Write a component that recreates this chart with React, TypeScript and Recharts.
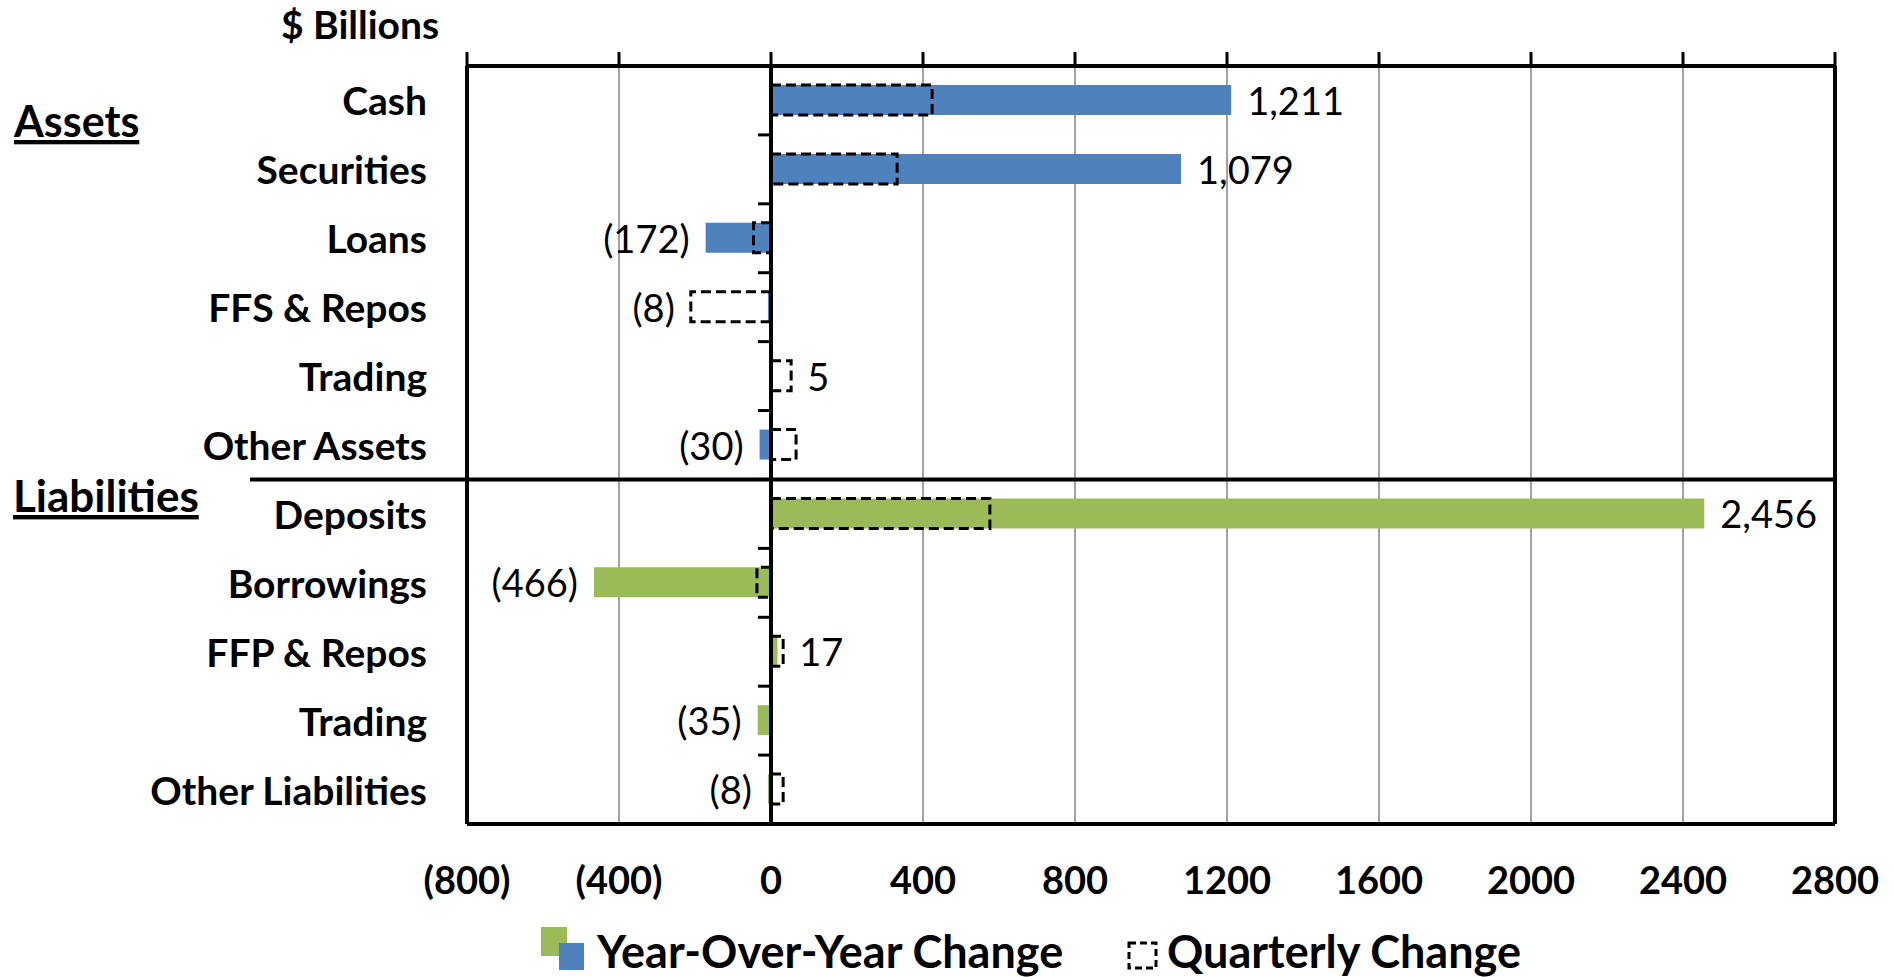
import { BarChart, Bar, XAxis, YAxis, CartesianGrid, ReferenceLine, Cell, LabelList } from "recharts"

// categories top to bottom; first six are assets, the rest liabilities
const categories = [
    "Cash",
    "Securities",
    "Loans",
    "FFS & Repos",
    "Trading",
    "Other Assets",
    "Deposits",
    "Borrowings",
    "FFP & Repos",
    "Trading",
    "Other Liabilities",
]
const assetCount = 6

// $ billions
const yearOverYear = [1211, 1079, -172, -8, 5, -30, 2456, -466, 17, -35, -8]
const quarterly = [424, 332, -46, -211, 53, 66, 576, -37, 32, 0, 32]

const xTicks = [-800, -400, 0, 400, 800, 1200, 1600, 2000, 2400, 2800]

const rows = categories.map((name, i) => ({ name, yoy: yearOverYear[i], qtr: quarterly[i] }))

// layout
const W = 1894
const H = 977
const PLOT_LEFT = 467
const PLOT_RIGHT = 1835
const PLOT_TOP = 66
const PLOT_BOTTOM = 824
const X_MIN = xTicks[0]
const X_MAX = xTicks[xTicks.length - 1]
const BAR = 30

const FONT = "Lato, 'Open Sans', sans-serif"
const BLUE = "#4F81BD"
const GREEN = "#9BBB59"

const xPx = (v: number) => PLOT_LEFT + ((v - X_MIN) / (X_MAX - X_MIN)) * (PLOT_RIGHT - PLOT_LEFT)

const fmtValue = (v: number) => (v < 0 ? `(${Math.abs(v).toLocaleString("en-US")})` : v.toLocaleString("en-US"))
const fmtTick = (v: number) => (v < 0 ? `(${Math.abs(v)})` : `${v}`)

const CategoryTick = (props: any) => {
    const { y, payload, index } = props
    const band = (PLOT_BOTTOM - PLOT_TOP) / categories.length
    const zx = xPx(0)
    return (
        <g>
            <text
                x={PLOT_LEFT - 40}
                y={y}
                textAnchor="end"
                dominantBaseline="central"
                fontFamily={FONT}
                fontWeight={700}
                fontSize={39}
                fill="#000"
            >
                {payload.value}
            </text>
            <line x1={zx - 13} x2={zx} y1={y + band / 2} y2={y + band / 2} stroke="#000" strokeWidth={3} />
            {index === assetCount && (
                <line x1={250} x2={PLOT_RIGHT} y1={y - band / 2} y2={y - band / 2} stroke="#000" strokeWidth={4} />
            )}
        </g>
    )
}

const ValueLabel = (props: any) => {
    const { y, height, index } = props
    const r = rows[index]
    const cy = y + height / 2
    if (r.yoy >= 0) {
        const end = Math.max(r.yoy, r.qtr, 0)
        return (
            <text x={xPx(end) + 16} y={cy} textAnchor="start" dominantBaseline="central" fontFamily={FONT} fontSize={38} fill="#000">
                {fmtValue(r.yoy)}
            </text>
        )
    }
    const start = Math.min(r.yoy, r.qtr, 0)
    return (
        <text x={xPx(start) - 16} y={cy} textAnchor="end" dominantBaseline="central" fontFamily={FONT} fontSize={38} fill="#000">
            {fmtValue(r.yoy)}
        </text>
    )
}

// top axis: outward tick marks only, no labels
const NoLabel = () => <g />

export default function App() {
    return (
        <div style={{ position: "relative", width: W, height: H, background: "#fff", overflow: "hidden" }}>
            <style>{"body{margin:0}"}</style>
            <BarChart
                width={W}
                height={H}
                data={rows}
                layout="vertical"
                barGap={-BAR}
                margin={{ top: PLOT_TOP - 14, right: W - PLOT_RIGHT, bottom: H - PLOT_BOTTOM - 60, left: 0 }}
            >
                <CartesianGrid xAxisId="bottom" horizontal={false} vertical stroke="#a3a3a3" strokeWidth={2} />
                <XAxis
                    xAxisId="top"
                    orientation="top"
                    type="number"
                    domain={[X_MIN, X_MAX]}
                    ticks={xTicks}
                    tick={<NoLabel />}
                    tickSize={14}
                    height={14}
                    stroke="#000"
                    tickLine={{ stroke: "#000", strokeWidth: 3 }}
                    axisLine={{ stroke: "#000", strokeWidth: 4 }}
                />
                <XAxis
                    xAxisId="bottom"
                    orientation="bottom"
                    type="number"
                    domain={[X_MIN, X_MAX]}
                    ticks={xTicks}
                    tickFormatter={fmtTick}
                    tickLine={false}
                    tickSize={0}
                    tickMargin={43}
                    height={60}
                    axisLine={{ stroke: "#000", strokeWidth: 4 }}
                    tick={{ fill: "#000", fontFamily: FONT, fontWeight: 700, fontSize: 38 }}
                />
                <YAxis
                    type="category"
                    dataKey="name"
                    width={PLOT_LEFT}
                    interval={0}
                    tickLine={false}
                    axisLine={{ stroke: "#000", strokeWidth: 4 }}
                    tick={<CategoryTick />}
                />
                <ReferenceLine xAxisId="bottom" x={X_MAX} stroke="#000" strokeWidth={4} />
                <Bar xAxisId="bottom" dataKey="yoy" barSize={BAR} isAnimationActive={false}>
                    {rows.map((_, i) => (
                        <Cell key={`yoy-${i}`} fill={i < assetCount ? BLUE : GREEN} />
                    ))}
                    <LabelList dataKey="yoy" content={<ValueLabel />} />
                </Bar>
                <Bar
                    xAxisId="top"
                    dataKey="qtr"
                    barSize={BAR}
                    fill="none"
                    stroke="#000"
                    strokeWidth={3}
                    strokeDasharray="10 5"
                    isAnimationActive={false}
                />
                <ReferenceLine xAxisId="bottom" x={0} stroke="#000" strokeWidth={4} />
            </BarChart>

            {/* free text and legend laid over the chart */}
            <svg width={W} height={H} style={{ position: "absolute", left: 0, top: 0, pointerEvents: "none" }}>
                <text x={281} y={39} fontFamily={FONT} fontWeight={700} fontSize={39} fill="#000">
                    $ Billions
                </text>
                <text x={14} y={137} fontFamily={FONT} fontWeight={700} fontSize={43} fill="#000" textDecoration="underline">
                    Assets
                </text>
                <text x={13} y={512} fontFamily={FONT} fontWeight={700} fontSize={44} fill="#000" textDecoration="underline">
                    Liabilities
                </text>

                <rect x={541} y={927} width={26} height={29} fill={GREEN} />
                <rect x={559} y={943} width={25} height={27} fill={BLUE} />
                <text x={597} y={968} fontFamily={FONT} fontWeight={700} fontSize={45} fill="#000">
                    Year-Over-Year Change
                </text>
                <rect x={1129} y={943} width={27} height={25} fill="none" stroke="#000" strokeWidth={3} strokeDasharray="7 4" />
                <text x={1167} y={968} fontFamily={FONT} fontWeight={700} fontSize={45} fill="#000">
                    Quarterly Change
                </text>
            </svg>
        </div>
    )
}
